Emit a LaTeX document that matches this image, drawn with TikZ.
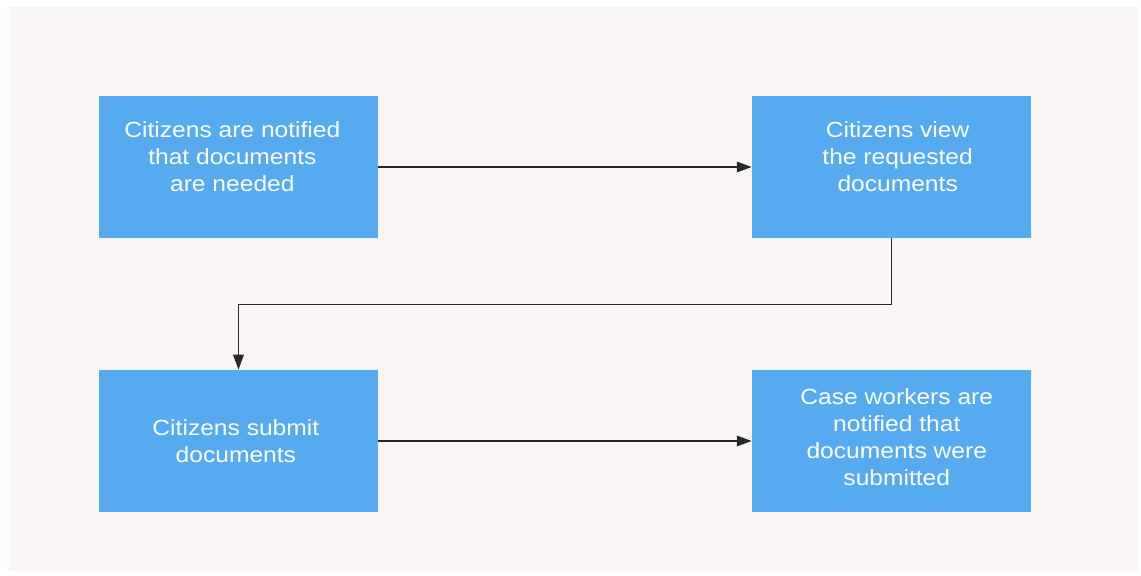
\documentclass[tikz,border=0pt]{standalone}
\usepackage{fontspec}
\setmainfont{Liberation Sans}[FakeStretch=1.12]
\usetikzlibrary{arrows.meta}
\usetikzlibrary{positioning}

\definecolor{stepblue}{RGB}{85,170,240}
\definecolor{panelbg}{RGB}{249,246,245}
\definecolor{linegray}{RGB}{40,40,40}

\tikzset{
  stepbox/.style = {fill=stepblue, minimum width=5.58cm, minimum height=2.84cm, inner sep=0pt},
  steptext/.style = {text=white, align=center, font=\fontsize{12.5}{15.4}\selectfont},
  flow/.style = {draw=linegray, line width=0.9pt, -{Triangle[length=8.5pt,width=6pt]}}
}

\begin{document}
\begin{tikzpicture}[x=0.02cm, y=-0.02cm]
  % Sfondo e margini
  \useasboundingbox (0,0) rectangle (1141,575);
  \fill[white] (0,0) rectangle (1141,575);
  \fill[panelbg] (9,7) rectangle (1138,571);

  % Riquadri dei passi
  \node[stepbox] (notified) at (238.5,167) {};
  \node[stepbox] (view) at (891.5,167) {};
  \node[stepbox] (submit) at (238.5,441) {};
  \node[stepbox] (caseworkers) at (891.5,441) {};

  % Testi dei passi
  \node[steptext, xshift=-3.5pt, yshift=6pt] (notifiedtext) at (notified) {Citizens are notified\\that documents\\are needed};
  \node[steptext, xshift=3.5pt, yshift=6pt] (viewtext) at (view) {Citizens view\\the requested\\documents};
  \node[steptext, xshift=-1.5pt] (submittext) at (submit) {Citizens submit\\documents};
  \node[steptext, xshift=3pt, yshift=2pt] (caseworkerstext) at (caseworkers) {Case workers are\\notified that\\documents were\\submitted};

  % Collegamenti
  \draw[flow] (notified) -- (view);
  \draw[flow] (view.south) -- ++(0,66) -| (submit.north);
  \draw[flow] (submit) -- (caseworkers);
\end{tikzpicture}
\end{document}
